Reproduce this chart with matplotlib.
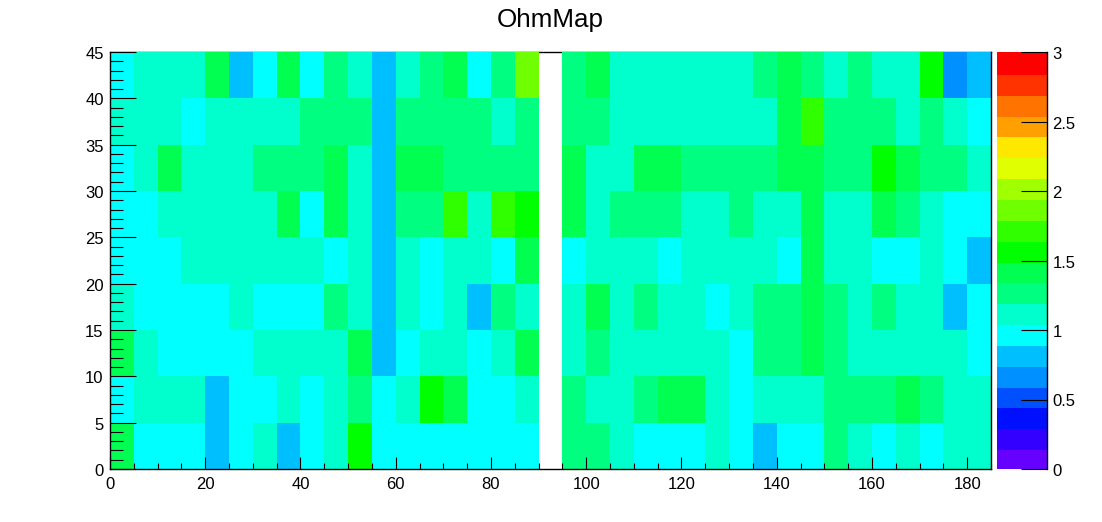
import numpy as np
import matplotlib
matplotlib.use("Agg")
import matplotlib.pyplot as plt
from matplotlib.colors import ListedColormap, BoundaryNorm
from matplotlib.transforms import ScaledTranslation

plt.rcParams['font.family'] = ['Liberation Sans', 'DejaVu Sans']

# level centres
D = 0.675
B = 0.825
C = 0.975
T = 1.125
M = 1.275
G = 1.425
L = 1.575
K = 1.725
Y = 1.875
N = np.nan

# one list per y bin, x bins of width 5 from 0 to 185
row_0 = [G,C,C,C,B,C,T,B,C,T,L,C,C,C,C,C,C,C,N,M,M,T,C,C,C,T,C,B,C,C,M,T,C,T,C,T,T]
row_1 = [C,T,T,T,B,C,C,T,C,T,M,C,T,L,G,C,C,T,N,M,T,T,M,G,G,T,C,T,T,T,M,M,M,G,M,T,T]
row_2 = [G,T,C,C,C,C,T,T,T,T,G,B,C,T,T,C,T,G,N,T,M,T,T,T,T,T,C,M,M,G,M,T,T,T,T,T,C]
row_3 = [T,C,C,C,C,T,C,C,C,M,T,B,T,C,T,B,M,T,N,T,G,T,M,T,T,C,T,M,M,G,M,T,M,T,T,B,C]
row_4 = [C,C,C,T,T,T,T,T,T,C,T,B,T,C,T,T,C,G,N,C,T,T,T,C,T,T,T,T,C,G,T,T,C,C,T,C,B]
row_5 = [C,C,T,T,T,T,T,G,C,G,T,B,M,M,K,T,K,L,N,G,T,M,M,M,T,T,M,T,T,G,T,T,G,M,T,C,C]
row_6 = [C,T,G,T,T,T,M,M,M,G,T,B,G,G,M,M,M,M,N,G,T,T,G,G,M,M,M,M,G,G,M,M,L,G,M,M,T]
row_7 = [T,T,T,C,T,T,T,T,M,M,M,B,M,M,M,M,T,M,N,M,M,T,T,T,T,T,T,T,G,K,M,M,M,T,M,T,C]
row_8 = [C,T,T,T,G,B,C,G,C,M,T,B,T,M,G,C,M,Y,N,M,G,T,T,T,T,T,T,M,G,M,T,M,T,T,L,D,B]

values = np.array([row_0, row_1, row_2, row_3, row_4, row_5, row_6, row_7, row_8])
x_edges = np.arange(0, 190, 5)
y_edges = np.arange(0, 50, 5)

level_colors = ['#6600ff', '#3300ff', '#0010ff', '#0050ff', '#0090ff', '#00bfff', '#00ffff',
                '#00ffcc', '#00ff80', '#00ff50', '#00ff00', '#30ff00', '#70ff00', '#a0ff00',
                '#e0ff00', '#ffe800', '#ffa000', '#ff7300', '#ff3300', '#ff0000']
levels = np.linspace(0, 3, 21)

W, H = 1102, 522
fig = plt.figure(figsize=(W/100, H/100), dpi=100)
ax = fig.add_axes([110/W, 1 - 469/H, (991-110)/W, (469-52)/H])
cax = fig.add_axes([997/W, 1 - 469/H, (1047-997)/W, (469-52)/H])

cmap = ListedColormap(level_colors)
norm = BoundaryNorm(levels, cmap.N)
mesh = ax.pcolormesh(x_edges, y_edges, np.ma.masked_invalid(values), cmap=cmap, norm=norm,
                     antialiased=False, zorder=1)

# root draws the frame under the histogram, axes on top
for s in ax.spines.values():
    s.set_linewidth(1.0)
ax.spines['top'].set_zorder(0.5)
ax.set_xlim(0, 185)
ax.set_ylim(0, 45)
ax.set_xticks(np.arange(0, 185, 20))
ax.set_xticks(np.arange(0, 186, 5), minor=True)
ax.set_yticks(np.arange(0, 46, 5))
ax.set_yticks(np.arange(0, 46, 1), minor=True)
ax.tick_params(axis='x', which='major', direction='in', length=8.6, width=0.8, labelsize=12, pad=5.5)
ax.tick_params(axis='x', which='minor', direction='in', length=4.3, width=0.8)
ax.tick_params(axis='y', which='major', direction='in', length=18.7, width=0.8, labelsize=12, pad=4.5)
ax.tick_params(axis='y', which='minor', direction='in', length=9.4, width=0.8)

cbar = fig.colorbar(mesh, cax=cax, spacing='proportional', ticks=np.arange(0, 3.1, 0.5))
cbar.solids.set_antialiased(False)
cbar.solids.set_edgecolor('face')
cbar.outline.set_visible(False)
cax.spines['right'].set_visible(True)
cax.spines['right'].set_linewidth(1.0)
cax.set_yticklabels(['0', '0.5', '1', '1.5', '2', '2.5', '3'])
cax.minorticks_off()
cax.tick_params(axis='y', which='major', direction='in', length=18.7, width=0.8, labelsize=12, pad=4)

# labels sit about a pixel lower than matplotlib centres them
shift = ScaledTranslation(0, -1/100, fig.dpi_scale_trans)
for lab in ax.get_yticklabels() + cax.get_yticklabels():
    lab.set_transform(lab.get_transform() + shift)

fig.text(550.5/W, 1 - 19.5/H, 'OhmMap', fontsize=18.7, ha='center', va='center')

fig.savefig('out.png', dpi=100)
